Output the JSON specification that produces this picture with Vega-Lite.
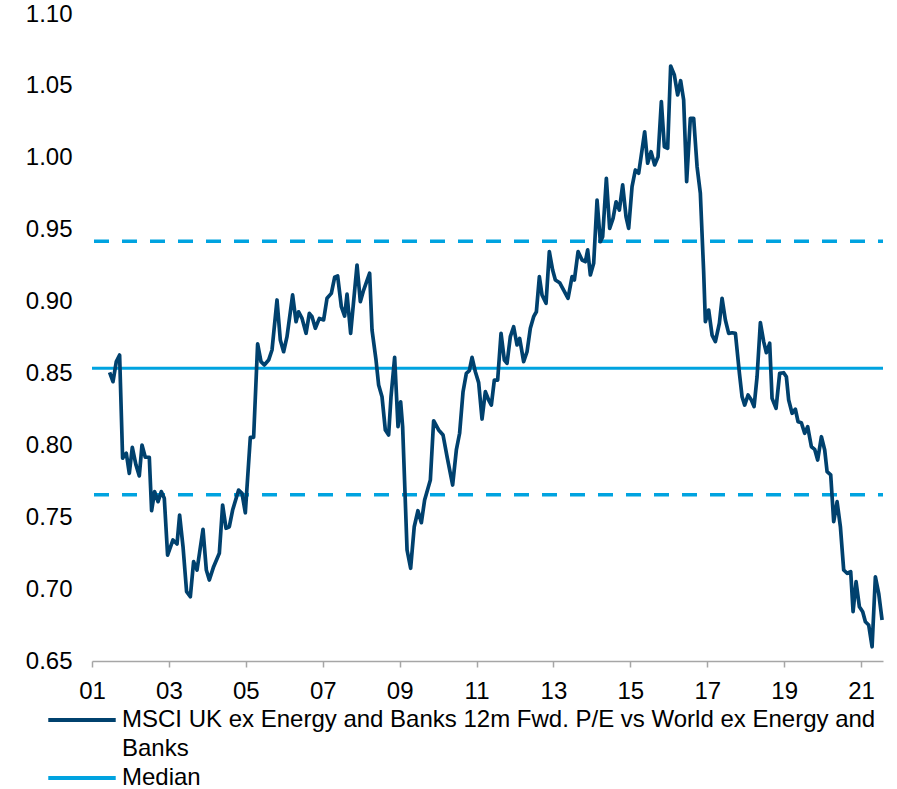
{
  "$schema": "https://vega.github.io/schema/vega-lite/v6.json",
  "width": 791,
  "height": 647,
  "autosize": {"type": "none"},
  "padding": {"left": 92, "top": 14, "right": 14, "bottom": 128},
  "background": "white",
  "config": {
    "view": {"stroke": null},
    "font": "Liberation Sans",
    "axis": {"labelFont": "Liberation Sans", "labelFontSize": 24, "labelColor": "#000000", "grid": false, "title": null},
    "legend": {"labelFont": "Liberation Sans", "labelFontSize": 24, "labelColor": "#000000"}
  },
  "data": {"values": [
    {"t":2001.458,"v":0.8508},{"t":2001.546,"v":0.8443},{"t":2001.632,"v":0.8582},{"t":2001.718,"v":0.8628},
    {"t":2001.796,"v":0.791},{"t":2001.848,"v":0.7933},{"t":2001.892,"v":0.7945},{"t":2001.970,"v":0.7805},
    {"t":2002.048,"v":0.7986},{"t":2002.144,"v":0.7863},{"t":2002.230,"v":0.7787},{"t":2002.300,"v":0.8002},
    {"t":2002.386,"v":0.7917},{"t":2002.490,"v":0.7917},{"t":2002.550,"v":0.7545},{"t":2002.628,"v":0.7678},
    {"t":2002.717,"v":0.7608},{"t":2002.802,"v":0.7678},{"t":2002.880,"v":0.7632},{"t":2002.966,"v":0.7237},
    {"t":2003.106,"v":0.7342},{"t":2003.211,"v":0.7314},{"t":2003.278,"v":0.7515},{"t":2003.367,"v":0.7295},
    {"t":2003.460,"v":0.6982},{"t":2003.557,"v":0.6947},{"t":2003.642,"v":0.7191},{"t":2003.731,"v":0.7133},
    {"t":2003.887,"v":0.7416},{"t":2003.973,"v":0.7133},{"t":2004.051,"v":0.7063},{"t":2004.163,"v":0.7156},
    {"t":2004.311,"v":0.7249},{"t":2004.397,"v":0.7585},{"t":2004.485,"v":0.7423},{"t":2004.571,"v":0.7434},
    {"t":2004.657,"v":0.755},{"t":2004.813,"v":0.7689},{"t":2004.901,"v":0.7666},{"t":2004.987,"v":0.7531},
    {"t":2005.117,"v":0.8056},{"t":2005.203,"v":0.8056},{"t":2005.307,"v":0.8705},{"t":2005.395,"v":0.8582},
    {"t":2005.481,"v":0.8559},{"t":2005.593,"v":0.8593},{"t":2005.681,"v":0.8663},{"t":2005.811,"v":0.9011},
    {"t":2005.897,"v":0.8733},{"t":2005.983,"v":0.8651},{"t":2006.071,"v":0.8756},{"t":2006.217,"v":0.9046},
    {"t":2006.306,"v":0.886},{"t":2006.373,"v":0.8929},{"t":2006.462,"v":0.8883},{"t":2006.566,"v":0.8779},
    {"t":2006.652,"v":0.8918},{"t":2006.722,"v":0.8895},{"t":2006.808,"v":0.8814},{"t":2006.912,"v":0.8883},
    {"t":2007.023,"v":0.8872},{"t":2007.112,"v":0.9023},{"t":2007.224,"v":0.9057},{"t":2007.310,"v":0.9169},
    {"t":2007.388,"v":0.9178},{"t":2007.484,"v":0.8964},{"t":2007.570,"v":0.8899},{"t":2007.632,"v":0.9052},
    {"t":2007.726,"v":0.8779},{"t":2007.892,"v":0.9254},{"t":2007.978,"v":0.8999},{"t":2008.064,"v":0.908},
    {"t":2008.220,"v":0.9197},{"t":2008.282,"v":0.8802},{"t":2008.386,"v":0.8593},{"t":2008.454,"v":0.842},
    {"t":2008.542,"v":0.8338},{"t":2008.628,"v":0.8107},{"t":2008.714,"v":0.8072},{"t":2008.776,"v":0.8338},
    {"t":2008.870,"v":0.8612},{"t":2008.958,"v":0.813},{"t":2009.026,"v":0.8303},{"t":2009.078,"v":0.813},
    {"t":2009.193,"v":0.7272},{"t":2009.286,"v":0.7145},{"t":2009.380,"v":0.7434},{"t":2009.476,"v":0.7545},
    {"t":2009.565,"v":0.7462},{"t":2009.650,"v":0.762},{"t":2009.799,"v":0.7759},{"t":2009.884,"v":0.8171},
    {"t":2010.014,"v":0.8107},{"t":2010.129,"v":0.8072},{"t":2010.233,"v":0.7921},{"t":2010.378,"v":0.7724},
    {"t":2010.475,"v":0.7968},{"t":2010.560,"v":0.8084},{"t":2010.649,"v":0.8373},{"t":2010.735,"v":0.8501},
    {"t":2010.813,"v":0.8519},{"t":2010.883,"v":0.8612},{"t":2010.969,"v":0.8512},{"t":2011.055,"v":0.8436},
    {"t":2011.143,"v":0.8183},{"t":2011.229,"v":0.8373},{"t":2011.315,"v":0.8315},{"t":2011.385,"v":0.828},
    {"t":2011.463,"v":0.8454},{"t":2011.549,"v":0.8454},{"t":2011.637,"v":0.8779},{"t":2011.723,"v":0.8593},
    {"t":2011.793,"v":0.8571},{"t":2011.879,"v":0.8756},{"t":2011.965,"v":0.8825},{"t":2012.053,"v":0.8698},
    {"t":2012.121,"v":0.8744},{"t":2012.225,"v":0.8582},{"t":2012.313,"v":0.8651},{"t":2012.399,"v":0.8814},
    {"t":2012.485,"v":0.8895},{"t":2012.556,"v":0.8929},{"t":2012.634,"v":0.9173},{"t":2012.703,"v":0.9046},
    {"t":2012.807,"v":0.8988},{"t":2012.893,"v":0.9347},{"t":2012.979,"v":0.9219},{"t":2013.050,"v":0.915},
    {"t":2013.161,"v":0.9131},{"t":2013.265,"v":0.908},{"t":2013.380,"v":0.9023},{"t":2013.484,"v":0.9173},
    {"t":2013.544,"v":0.915},{"t":2013.640,"v":0.9347},{"t":2013.744,"v":0.9289},{"t":2013.830,"v":0.9277},
    {"t":2013.890,"v":0.9359},{"t":2013.960,"v":0.9185},{"t":2014.046,"v":0.9266},{"t":2014.134,"v":0.9706},
    {"t":2014.220,"v":0.9416},{"t":2014.280,"v":0.9451},{"t":2014.376,"v":0.9857},{"t":2014.462,"v":0.9509},
    {"t":2014.550,"v":0.9579},{"t":2014.628,"v":0.9694},{"t":2014.714,"v":0.9637},{"t":2014.800,"v":0.9811},
    {"t":2014.888,"v":0.959},{"t":2014.956,"v":0.9509},{"t":2015.044,"v":0.9799},{"t":2015.130,"v":0.9915},
    {"t":2015.216,"v":0.9892},{"t":2015.304,"v":1.0054},{"t":2015.372,"v":1.0181},{"t":2015.450,"v":0.9962},
    {"t":2015.538,"v":1.0042},{"t":2015.632,"v":0.995},{"t":2015.720,"v":1.0007},{"t":2015.806,"v":1.039},
    {"t":2015.884,"v":1.0077},{"t":2015.970,"v":1.0066},{"t":2016.048,"v":1.0638},{"t":2016.144,"v":1.0576},
    {"t":2016.230,"v":1.0437},{"t":2016.308,"v":1.0536},{"t":2016.386,"v":1.0402},{"t":2016.464,"v":0.9834},
    {"t":2016.560,"v":1.0275},{"t":2016.646,"v":1.0275},{"t":2016.735,"v":0.9938},{"t":2016.820,"v":0.9753},
    {"t":2016.906,"v":0.9208},{"t":2016.951,"v":0.886},{"t":2017.037,"v":0.8941},{"t":2017.125,"v":0.8767},
    {"t":2017.211,"v":0.8721},{"t":2017.315,"v":0.8849},{"t":2017.385,"v":0.9023},{"t":2017.471,"v":0.8872},
    {"t":2017.557,"v":0.8779},{"t":2017.646,"v":0.8783},{"t":2017.732,"v":0.8779},{"t":2017.836,"v":0.8501},
    {"t":2017.905,"v":0.8338},{"t":2017.973,"v":0.828},{"t":2018.061,"v":0.835},{"t":2018.147,"v":0.8315},
    {"t":2018.217,"v":0.8269},{"t":2018.295,"v":0.8477},{"t":2018.381,"v":0.8853},{"t":2018.467,"v":0.8721},
    {"t":2018.537,"v":0.8644},{"t":2018.623,"v":0.871},{"t":2018.685,"v":0.8327},{"t":2018.789,"v":0.8258},
    {"t":2018.883,"v":0.8501},{"t":2018.987,"v":0.8505},{"t":2019.057,"v":0.8477},{"t":2019.117,"v":0.8315},
    {"t":2019.206,"v":0.8223},{"t":2019.291,"v":0.8251},{"t":2019.362,"v":0.8164},{"t":2019.447,"v":0.8157},
    {"t":2019.533,"v":0.8084},{"t":2019.611,"v":0.813},{"t":2019.708,"v":0.799},{"t":2019.793,"v":0.7972},
    {"t":2019.871,"v":0.7898},{"t":2019.968,"v":0.806},{"t":2020.054,"v":0.7968},{"t":2020.116,"v":0.7817},
    {"t":2020.210,"v":0.7794},{"t":2020.288,"v":0.7469},{"t":2020.376,"v":0.7608},{"t":2020.462,"v":0.7434},
    {"t":2020.548,"v":0.7133},{"t":2020.636,"v":0.711},{"t":2020.730,"v":0.7121},{"t":2020.792,"v":0.6843},
    {"t":2020.870,"v":0.7052},{"t":2020.956,"v":0.6878},{"t":2021.042,"v":0.6843},{"t":2021.112,"v":0.6773},
    {"t":2021.198,"v":0.675},{"t":2021.286,"v":0.6599},{"t":2021.372,"v":0.7086},{"t":2021.458,"v":0.6971},
    {"t":2021.546,"v":0.6785}
  ]},
  "layer": [
    {
      "data": {"values": [{"v": 0.9419}, {"v": 0.7656}]},
      "mark": {"type": "rule", "color": "#00a3e0", "strokeWidth": 3.5, "strokeDash": [15, 13], "strokeDashOffset": 10},
      "encoding": {
        "y": {"field": "v", "type": "quantitative"}
      }
    },
    {
      "data": {"values": [{"v": 0.8536}]},
      "mark": {"type": "rule", "strokeWidth": 3},
      "encoding": {
        "y": {"field": "v", "type": "quantitative"},
        "color": {"datum": "Median"}
      }
    },
    {
      "mark": {"type": "line", "strokeWidth": 3.7, "strokeJoin": "round"},
      "encoding": {
        "x": {
          "field": "t", "type": "quantitative",
          "scale": {"domain": [2001, 2021.57], "nice": false, "zero": false},
          "axis": {
            "values": [2001, 2003, 2005, 2007, 2009, 2011, 2013, 2015, 2017, 2019, 2021],
            "labelExpr": "substring(toString(datum.value), 2)",
            "domainColor": "#a6a6a6", "domainWidth": 1.5,
            "tickColor": "#a6a6a6", "tickWidth": 1.5, "tickSize": 6,
            "labelPadding": 12, "labelFlush": false
          }
        },
        "y": {
          "field": "v", "type": "quantitative",
          "scale": {"domain": [0.65, 1.10], "nice": false, "zero": false},
          "axis": {
            "values": [0.65, 0.70, 0.75, 0.80, 0.85, 0.90, 0.95, 1.00, 1.05, 1.10],
            "format": ".2f", "domain": false, "ticks": false, "labelPadding": 20
          }
        },
        "color": {
          "datum": "MSCI UK ex Energy and Banks 12m Fwd. P/E vs World ex Energy and",
          "scale": {
            "domain": ["MSCI UK ex Energy and Banks 12m Fwd. P/E vs World ex Energy and", "Banks", "Median"],
            "range": ["#00416e", "rgba(255,255,255,0)", "#00a3e0"]
          },
          "legend": {
            "title": null,
            "orient": "none",
            "legendX": -22,
            "legendY": 694,
            "padding": 0,
            "symbolType": "M-5,0H5",
            "symbolSize": 182,
            "symbolStrokeWidth": 4,
            "labelOffset": 28,
            "labelLimit": 0,
            "rowPadding": 5
          }
        }
      }
    }
  ]
}
